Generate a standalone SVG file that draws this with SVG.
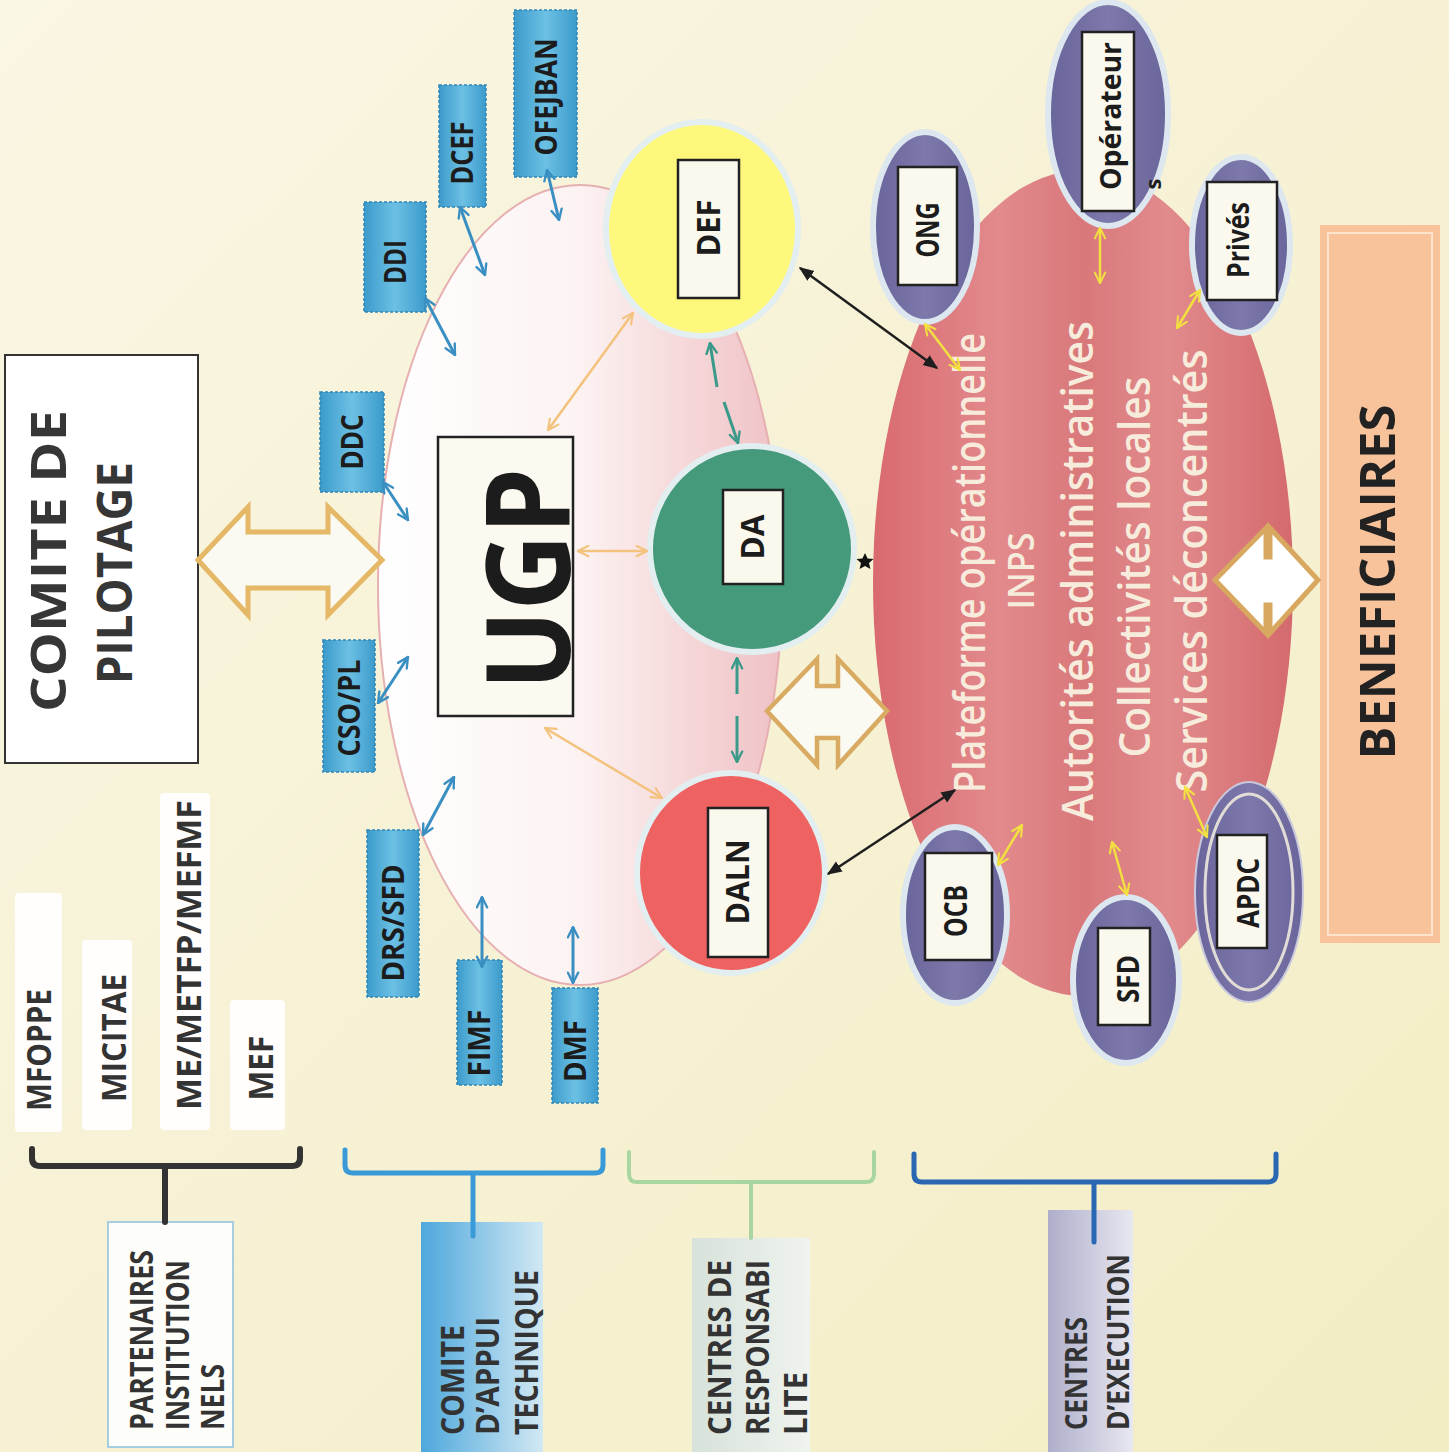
<svg xmlns="http://www.w3.org/2000/svg" width="1449" height="1452" viewBox="0 0 1449 1452">
<style>
.t{font-family:'Open Sans','Liberation Sans',sans-serif;font-weight:700;fill:#1c1c1c}
.tw{font-family:'Open Sans','Liberation Sans',sans-serif;font-weight:600;fill:#f7ecdc}
.blue{fill:url(#gBlue);stroke:#2f86b6;stroke-width:1.5;stroke-dasharray:3 2}
.wbox{fill:#fbf9ee;stroke:#222;stroke-width:2.5}
.oval{fill:url(#gPurple);stroke:#dde7ef;stroke-width:6}
.circ{stroke:#e2eef0;stroke-width:6}
.ab{stroke:#3a8fc2;stroke-width:3;fill:none;marker-start:url(#mb);marker-end:url(#mb)}
.ao{stroke:#f3c27c;stroke-width:2.5;fill:none;marker-start:url(#mo);marker-end:url(#mo)}
.ay{stroke:#f2e040;stroke-width:2.5;fill:none;marker-start:url(#my);marker-end:url(#my)}
.ak{stroke:#1e1e1e;stroke-width:2.5;fill:none;marker-start:url(#mk);marker-end:url(#mk)}
.at{stroke:#3a9a8a;stroke-width:3;fill:none}
.br{fill:none;stroke-linejoin:round;stroke-linecap:round}
.mini{fill:#ffffff;opacity:0.92}
</style>
<defs>
<linearGradient id="gBg" x1="0" y1="0" x2="1" y2="1">
<stop offset="0" stop-color="#faf6e4"/><stop offset="1" stop-color="#f3edc4"/>
</linearGradient>
<linearGradient id="gUgp" x1="378" y1="0" x2="782" y2="0" gradientUnits="userSpaceOnUse">
<stop offset="0" stop-color="#ffffff"/><stop offset="0.5" stop-color="#fcf2f2"/><stop offset="0.75" stop-color="#f6d9da"/><stop offset="1" stop-color="#efc1c5"/>
</linearGradient>
<linearGradient id="gPlat" x1="873" y1="0" x2="1293" y2="0" gradientUnits="userSpaceOnUse">
<stop offset="0" stop-color="#d96a6e"/><stop offset="0.3" stop-color="#e28a8d"/><stop offset="0.5" stop-color="#d9787b"/><stop offset="0.7" stop-color="#e18b8d"/><stop offset="1" stop-color="#d46a6d"/>
</linearGradient>
<linearGradient id="gBlue" x1="0" y1="0" x2="1" y2="0">
<stop offset="0" stop-color="#3c9bcb"/><stop offset="0.5" stop-color="#6cc0e4"/><stop offset="1" stop-color="#3c9bcb"/>
</linearGradient>
<linearGradient id="gPurple" x1="0" y1="0" x2="1" y2="0">
<stop offset="0" stop-color="#69649a"/><stop offset="0.5" stop-color="#7d79ab"/><stop offset="1" stop-color="#69649a"/>
</linearGradient>
<linearGradient id="gCat" x1="0" y1="0" x2="1" y2="0">
<stop offset="0" stop-color="#4ea8dc"/><stop offset="1" stop-color="#d2e8f3"/>
</linearGradient>
<linearGradient id="gCr" x1="0" y1="0" x2="1" y2="0">
<stop offset="0" stop-color="#d6e2da"/><stop offset="1" stop-color="#f0f3ee"/>
</linearGradient>
<linearGradient id="gCe" x1="0" y1="0" x2="1" y2="0">
<stop offset="0" stop-color="#aeaecb"/><stop offset="1" stop-color="#e8e8f1"/>
</linearGradient>
<marker id="mb" viewBox="0 0 10 10" refX="9" refY="5" markerWidth="13" markerHeight="13" markerUnits="userSpaceOnUse" orient="auto-start-reverse"><path d="M1,1 L9,5 L1,9" fill="none" stroke="#3a8fc2" stroke-width="1.8" stroke-linecap="round"/></marker>
<marker id="mo" viewBox="0 0 10 10" refX="9" refY="5" markerWidth="13" markerHeight="13" markerUnits="userSpaceOnUse" orient="auto-start-reverse"><path d="M1,1 L9,5 L1,9" fill="none" stroke="#f3c27c" stroke-width="1.6" stroke-linecap="round"/></marker>
<marker id="my" viewBox="0 0 10 10" refX="9" refY="5" markerWidth="13" markerHeight="13" markerUnits="userSpaceOnUse" orient="auto-start-reverse"><path d="M1,1 L9,5 L1,9" fill="none" stroke="#f2e040" stroke-width="1.6" stroke-linecap="round"/></marker>
<marker id="mt" viewBox="0 0 10 10" refX="9" refY="5" markerWidth="13" markerHeight="13" markerUnits="userSpaceOnUse" orient="auto-start-reverse"><path d="M1,1 L9,5 L1,9" fill="none" stroke="#3a9a8a" stroke-width="1.8" stroke-linecap="round"/></marker>
<marker id="mk" viewBox="0 0 10 10" refX="9" refY="5" markerWidth="15" markerHeight="15" markerUnits="userSpaceOnUse" orient="auto-start-reverse"><path d="M0,1 L10,5 L0,9 Z" fill="#1e1e1e"/></marker>
</defs>

<rect x="0" y="0" width="1449" height="1452" fill="url(#gBg)"/>

<!-- background areas -->
<ellipse id="ugp-zone" cx="580" cy="585" rx="202" ry="400" fill="url(#gUgp)" stroke="#e6b0b2" stroke-width="2"/>
<ellipse id="platform-zone" cx="1083" cy="583" rx="210" ry="413" fill="url(#gPlat)"/>

<g id="comite-pilotage">
<rect x="5" y="355" width="193" height="408" fill="#ffffff" stroke="#333" stroke-width="2"/>
<text class="t" font-size="48" fill="#333" transform="translate(66,561) rotate(-90)" text-anchor="middle" textLength="302" lengthAdjust="spacingAndGlyphs" style="fill:#363636">COMITE DE</text>
<text class="t" font-size="49" transform="translate(132,573) rotate(-90)" text-anchor="middle" textLength="222" lengthAdjust="spacingAndGlyphs" style="fill:#363636">PILOTAGE</text>
</g>

<g id="ugp">
<rect x="438" y="437" width="135" height="279" fill="#fcfaf0" stroke="#222" stroke-width="2.5"/>
<text class="t" font-size="116" transform="translate(570,579) rotate(-90)" text-anchor="middle" textLength="222" lengthAdjust="spacingAndGlyphs">UGP</text>
</g>

<g id="appui-nodes">
<g id="n-ddc"><rect class="blue" x="320" y="392" width="64" height="100"/><text class="t" font-size="31" transform="translate(363,442) rotate(-90)" text-anchor="middle" textLength="55" lengthAdjust="spacingAndGlyphs">DDC</text></g>
<g id="n-ddi"><rect class="blue" x="364" y="202" width="62" height="110"/><text class="t" font-size="31" transform="translate(406,262) rotate(-90)" text-anchor="middle" textLength="44" lengthAdjust="spacingAndGlyphs">DDI</text></g>
<g id="n-dcef"><rect class="blue" x="439" y="85" width="47" height="122"/><text class="t" font-size="30" transform="translate(473,153) rotate(-90)" text-anchor="middle" textLength="63" lengthAdjust="spacingAndGlyphs">DCEF</text></g>
<g id="n-ofejban"><rect class="blue" x="514" y="10" width="63" height="167"/><text class="t" font-size="31" transform="translate(557,97) rotate(-90)" text-anchor="middle" textLength="117" lengthAdjust="spacingAndGlyphs">OFEJBAN</text></g>
<g id="n-csopl"><rect class="blue" x="323" y="640" width="52" height="132"/><text class="t" font-size="30" transform="translate(360,708) rotate(-90)" text-anchor="middle" textLength="97" lengthAdjust="spacingAndGlyphs">CSO/PL</text></g>
<g id="n-drssfd"><rect class="blue" x="367" y="830" width="52" height="167"/><text class="t" font-size="30" transform="translate(404,923) rotate(-90)" text-anchor="middle" textLength="117" lengthAdjust="spacingAndGlyphs">DRS/SFD</text></g>
<g id="n-fimf"><rect class="blue" x="457" y="960" width="45" height="125"/><text class="t" font-size="30" transform="translate(490,1043) rotate(-90)" text-anchor="middle" textLength="67" lengthAdjust="spacingAndGlyphs">FIMF</text></g>
<g id="n-dmf"><rect class="blue" x="552" y="988" width="46" height="115"/><text class="t" font-size="30" transform="translate(586,1051) rotate(-90)" text-anchor="middle" textLength="62" lengthAdjust="spacingAndGlyphs">DMF</text></g>
</g>

<g id="responsabilite-nodes">
<g id="n-def"><ellipse class="circ" cx="702" cy="229" rx="96" ry="107" fill="#fdf77c"/><rect class="wbox" x="678" y="160" width="61" height="138"/><text class="t" font-size="32" transform="translate(720,228) rotate(-90)" text-anchor="middle" textLength="57" lengthAdjust="spacingAndGlyphs">DEF</text></g>
<g id="n-da"><ellipse class="circ" cx="752" cy="549" rx="102" ry="103" fill="#449a7a"/><rect class="wbox" x="723" y="490" width="60" height="94"/><text class="t" font-size="32" transform="translate(764,537) rotate(-90)" text-anchor="middle" textLength="45" lengthAdjust="spacingAndGlyphs">DA</text></g>
<g id="n-daln"><ellipse class="circ" cx="731" cy="873" rx="94" ry="100" fill="#ee6262"/><rect class="wbox" x="708" y="808" width="60" height="149"/><text class="t" font-size="32" transform="translate(749,882) rotate(-90)" text-anchor="middle" textLength="85" lengthAdjust="spacingAndGlyphs">DALN</text></g>
</g>

<g id="execution-nodes">
<g id="n-ong"><ellipse class="oval" cx="925" cy="227" rx="52" ry="95"/><rect class="wbox" x="898" y="167" width="59" height="118"/><text class="t" font-size="32" transform="translate(939,230) rotate(-90)" text-anchor="middle" textLength="55" lengthAdjust="spacingAndGlyphs">ONG</text></g>
<g id="n-operateurs"><ellipse class="oval" cx="1108" cy="114" rx="60" ry="112"/><rect class="wbox" x="1082" y="32" width="52" height="179"/><text class="t" font-size="29" transform="translate(1121,116) rotate(-90)" text-anchor="middle" textLength="148" lengthAdjust="spacingAndGlyphs">Opérateur</text><text class="t" font-size="22" transform="translate(1161,184) rotate(-90)" text-anchor="middle">s</text></g>
<g id="n-prives"><ellipse class="oval" cx="1241" cy="245" rx="49" ry="88"/><rect class="wbox" x="1207" y="182" width="70" height="118"/><text class="t" font-size="30" transform="translate(1249,240) rotate(-90)" text-anchor="middle" textLength="76" lengthAdjust="spacingAndGlyphs">Privés</text></g>
<g id="n-ocb"><ellipse class="oval" cx="955" cy="915" rx="52" ry="88"/><rect class="wbox" x="925" y="853" width="67" height="107"/><text class="t" font-size="32" transform="translate(967,911) rotate(-90)" text-anchor="middle" textLength="52" lengthAdjust="spacingAndGlyphs">OCB</text></g>
<g id="n-sfd"><ellipse class="oval" cx="1126" cy="980" rx="53" ry="83"/><rect class="wbox" x="1098" y="928" width="52" height="97"/><text class="t" font-size="31" transform="translate(1139,979) rotate(-90)" text-anchor="middle" textLength="48" lengthAdjust="spacingAndGlyphs">SFD</text></g>
<g id="n-apdc"><ellipse cx="1249" cy="892" rx="54" ry="110" fill="url(#gPurple)" stroke="#c9c9de" stroke-width="2"/><ellipse cx="1249" cy="892" rx="44" ry="98" fill="none" stroke="#e2dcd6" stroke-width="3"/><rect class="wbox" x="1217" y="835" width="50" height="113"/><text class="t" font-size="30" transform="translate(1259,893) rotate(-90)" text-anchor="middle" textLength="70" lengthAdjust="spacingAndGlyphs">APDC</text></g>
</g>

<g id="plateforme-text">
<text class="tw" font-size="44" transform="translate(985,563) rotate(-90)" text-anchor="middle" textLength="460" lengthAdjust="spacingAndGlyphs">Plateforme opérationnelle</text>
<text class="tw" font-size="36" transform="translate(1034,571) rotate(-90)" text-anchor="middle" textLength="77" lengthAdjust="spacingAndGlyphs">INPS</text>
<text class="tw" font-size="44" transform="translate(1093,571) rotate(-90)" text-anchor="middle" textLength="500" lengthAdjust="spacingAndGlyphs">Autorités administratives</text>
<text class="tw" font-size="44" transform="translate(1150,567) rotate(-90)" text-anchor="middle" textLength="381" lengthAdjust="spacingAndGlyphs">Collectivités locales</text>
<text class="tw" font-size="44" transform="translate(1207,571) rotate(-90)" text-anchor="middle" textLength="443" lengthAdjust="spacingAndGlyphs">Services déconcentrés</text>
</g>

<g id="beneficiaires">
<rect x="1320" y="225" width="120" height="718" fill="#f8c29b"/>
<rect x="1328" y="233" width="104" height="702" fill="none" stroke="#fde2cc" stroke-width="2"/>
<text class="t" font-size="49" transform="translate(1395,582) rotate(-90)" text-anchor="middle" textLength="355" lengthAdjust="spacingAndGlyphs" style="fill:#222">BENEFICIAIRES</text>
</g>

<g id="ministeres">
<g id="m-mfoppe"><rect class="mini" x="15" y="893" width="47" height="239" rx="4"/><text class="t" font-size="34" transform="translate(51,1050) rotate(-90)" text-anchor="middle" textLength="122" lengthAdjust="spacingAndGlyphs" style="fill:#333">MFOPPE</text></g>
<g id="m-micitae"><rect class="mini" x="82" y="940" width="50" height="190" rx="4"/><text class="t" font-size="34" transform="translate(126,1038) rotate(-90)" text-anchor="middle" textLength="128" lengthAdjust="spacingAndGlyphs" style="fill:#333">MICITAE</text></g>
<g id="m-me"><rect class="mini" x="160" y="793" width="50" height="337" rx="4"/><text class="t" font-size="34" transform="translate(201,955) rotate(-90)" text-anchor="middle" textLength="310" lengthAdjust="spacingAndGlyphs" style="fill:#333">ME/METFP/MEFMF</text></g>
<g id="m-mef"><rect class="mini" x="230" y="1000" width="55" height="130" rx="4"/><text class="t" font-size="34" transform="translate(273,1068) rotate(-90)" text-anchor="middle" textLength="65" lengthAdjust="spacingAndGlyphs" style="fill:#333">MEF</text></g>
</g>

<g id="legend">
<g id="l-partenaires"><rect x="108" y="1222" width="125" height="225" fill="#fdfdf9" stroke="#a6cde0" stroke-width="2"/>
<text class="t" font-size="33" transform="translate(153,1430) rotate(-90)" textLength="180" lengthAdjust="spacingAndGlyphs" style="fill:#333">PARTENAIRES</text>
<text class="t" font-size="33" transform="translate(189,1430) rotate(-90)" textLength="170" lengthAdjust="spacingAndGlyphs" style="fill:#333">INSTITUTION</text>
<text class="t" font-size="33" transform="translate(224,1430) rotate(-90)" textLength="66" lengthAdjust="spacingAndGlyphs" style="fill:#333">NELS</text></g>
<g id="l-appui"><rect x="421" y="1222" width="122" height="230" fill="url(#gCat)"/>
<text class="t" font-size="32" transform="translate(464,1435) rotate(-90)" textLength="110" lengthAdjust="spacingAndGlyphs" style="fill:#333">COMITE</text>
<text class="t" font-size="32" transform="translate(499,1435) rotate(-90)" textLength="118" lengthAdjust="spacingAndGlyphs" style="fill:#333">D’APPUI</text>
<text class="t" font-size="32" transform="translate(538,1435) rotate(-90)" textLength="165" lengthAdjust="spacingAndGlyphs" style="fill:#333">TECHNIQUE</text></g>
<g id="l-responsabilite"><rect x="692" y="1238" width="118" height="214" fill="url(#gCr)"/>
<text class="t" font-size="32" transform="translate(731,1435) rotate(-90)" textLength="175" lengthAdjust="spacingAndGlyphs" style="fill:#333">CENTRES DE</text>
<text class="t" font-size="32" transform="translate(769,1435) rotate(-90)" textLength="175" lengthAdjust="spacingAndGlyphs" style="fill:#333">RESPONSABI</text>
<text class="t" font-size="32" transform="translate(807,1435) rotate(-90)" textLength="63" lengthAdjust="spacingAndGlyphs" style="fill:#333">LITE</text></g>
<g id="l-execution"><rect x="1048" y="1210" width="85" height="242" fill="url(#gCe)"/>
<text class="t" font-size="31" transform="translate(1087,1430) rotate(-90)" textLength="113" lengthAdjust="spacingAndGlyphs" style="fill:#333">CENTRES</text>
<text class="t" font-size="31" transform="translate(1129,1430) rotate(-90)" textLength="176" lengthAdjust="spacingAndGlyphs" style="fill:#333">D’EXECUTION</text></g>
</g>

<g id="connectors">
<!-- brackets -->
<path class="br" d="M32,1149 L32,1158 Q32,1166 40,1166 L292,1166 Q300,1166 300,1158 L300,1149 M165,1166 L165,1222" stroke="#333" stroke-width="6"/>
<path class="br" d="M345,1150 L345,1165 Q345,1173 353,1173 L595,1173 Q603,1173 603,1165 L603,1150 M473,1173 L473,1236" stroke="#3a9ad8" stroke-width="5"/>
<path class="br" d="M629,1152 L629,1174 Q629,1182 637,1182 L866,1182 Q874,1182 874,1174 L874,1152 M751,1182 L751,1238" stroke="#a9d6a0" stroke-width="4"/>
<path class="br" d="M914,1154 L914,1174 Q914,1182 922,1182 L1268,1182 Q1276,1182 1276,1174 L1276,1154 M1094,1182 L1094,1242" stroke="#2a67b2" stroke-width="5"/>

<!-- block double arrows -->
<polygon points="198,560 248,507 248,532 328,532 328,507 382,560 328,615 328,588 248,588 248,615" fill="#fbfaf2" stroke="#e4b866" stroke-width="5" stroke-linejoin="miter"/>
<polygon points="767,711 817,659 817,686 838,686 838,659 887,711 838,765 838,738 817,738 817,765" fill="#fbfaf2" stroke="#d9aa62" stroke-width="4.5"/>
<polygon points="1215,580 1266,528 1266,557 1270,557 1270,528 1318,580 1270,633 1270,605 1266,605 1266,633" fill="#ffffff" stroke="#d8a860" stroke-width="5"/>

<!-- blue -->
<line class="ab" x1="383" y1="482" x2="408" y2="520"/>
<line class="ab" x1="425" y1="298" x2="455" y2="355"/>
<line class="ab" x1="460" y1="207" x2="485" y2="275"/>
<line class="ab" x1="547" y1="170" x2="559" y2="220"/>
<line class="ab" x1="378" y1="703" x2="408" y2="657"/>
<line class="ab" x1="423" y1="835" x2="454" y2="777"/>
<line class="ab" x1="482" y1="897" x2="482" y2="967"/>
<line class="ab" x1="573" y1="927" x2="573" y2="983"/>

<!-- orange -->
<line class="ao" x1="548" y1="430" x2="633" y2="313"/>
<line class="ao" x1="578" y1="551" x2="647" y2="551"/>
<line class="ao" x1="545" y1="728" x2="662" y2="798"/>

<!-- teal -->
<line class="at" x1="710" y1="343" x2="717" y2="387" marker-start="url(#mt)"/>
<line class="at" x1="724" y1="402" x2="738" y2="443" marker-end="url(#mt)"/>
<line class="at" x1="737" y1="658" x2="737" y2="694" marker-start="url(#mt)"/>
<line class="at" x1="737" y1="716" x2="737" y2="762" marker-end="url(#mt)"/>

<!-- black -->
<line class="ak" x1="800" y1="268" x2="937" y2="368"/>
<line class="ak" x1="828" y1="874" x2="955" y2="790"/>
<polygon points="865,553 867.6,558.5 873.5,559 869,563 870.4,569 865,566 859.6,569 861,563 856.5,559 862.4,558.5" fill="#111"/>

<!-- yellow -->
<line class="ay" x1="925" y1="324" x2="960" y2="370"/>
<line class="ay" x1="1100" y1="228" x2="1100" y2="283"/>
<line class="ay" x1="1200" y1="290" x2="1177" y2="328"/>
<line class="ay" x1="998" y1="865" x2="1022" y2="825"/>
<line class="ay" x1="1127" y1="895" x2="1112" y2="842"/>
<line class="ay" x1="1207" y1="837" x2="1185" y2="787"/>
</g>
</svg>
